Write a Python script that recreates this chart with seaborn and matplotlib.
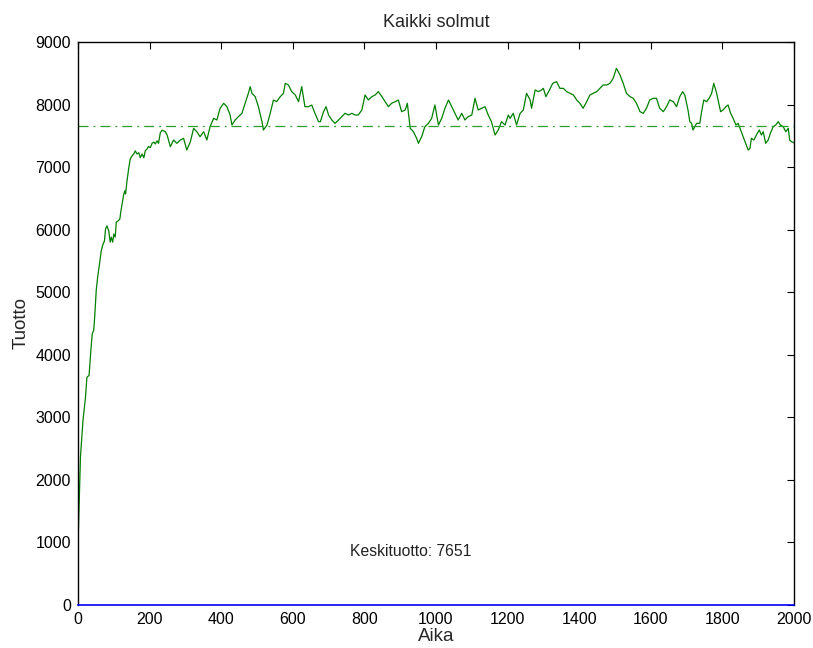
import matplotlib
matplotlib.use("Agg")
import matplotlib.pyplot as plt
import seaborn as sns
import pandas as pd

# Time steps and total yield of all nodes
aika = [
    0, 7, 11, 14, 21, 25, 31, 36, 40, 44, 47, 51, 55, 59, 62, 65, 69, 74, 77, 81,
    86, 90, 93, 97, 100, 104, 107, 112, 117, 120, 124, 128, 131, 133, 137, 142,
    146, 151, 156, 160, 165, 170, 174, 179, 184, 188, 193, 197, 202, 207, 212, 216,
    221, 225, 230, 235, 244, 249, 258, 267, 276, 286, 295, 304, 314, 323, 332, 341,
    351, 360, 369, 379, 388, 397, 407, 416, 425, 430, 439, 448, 458, 467, 476, 481,
    486, 495, 504, 514, 518, 528, 537, 546, 555, 565, 574, 579, 588, 597, 607, 616,
    625, 634, 644, 653, 662, 672,
    677, 686, 693, 700, 709, 718, 728, 737, 746, 756, 765, 774, 783, 793, 802, 811,
    821, 830, 839, 849, 858, 867, 876, 886, 895, 904, 914, 920, 928, 937, 946, 951,
    960, 969, 979, 988, 997, 1007, 1016, 1025, 1035, 1044, 1053, 1062, 1072, 1081,
    1090, 1100, 1109, 1118, 1128, 1137, 1146, 1155, 1165, 1174, 1183, 1193, 1202,
    1207, 1216, 1225, 1235, 1244, 1253, 1263, 1267, 1277, 1286, 1295, 1300, 1307,
    1317, 1326, 1337, 1346, 1356, 1365, 1374, 1384, 1393, 1402, 1411, 1421, 1430,
    1439, 1449, 1458, 1467, 1477, 1486, 1495, 1504, 1514, 1523, 1532, 1542, 1551,
    1560, 1570, 1579, 1588, 1597, 1607, 1616, 1625, 1635, 1644, 1653, 1663, 1672,
    1681, 1689, 1695, 1704, 1709, 1714, 1718, 1728,
    1737, 1742, 1748, 1756, 1763, 1770, 1776, 1784, 1788, 1795, 1802, 1810, 1816,
    1823, 1830, 1838, 1844, 1851, 1858, 1865, 1872, 1877, 1881, 1888, 1895, 1903,
    1909, 1914, 1921, 1928, 1934, 1942, 1949, 1956, 1962, 1970, 1977, 1984, 1988,
    1993, 2000,
]
tuotto = [
    950, 2370, 2690, 2950, 3320, 3640, 3670, 4070, 4340, 4390, 4630, 5030, 5240,
    5400, 5530, 5660, 5750, 5820, 6010, 6060, 5980, 5800, 5880, 5800, 5930, 5880,
    6120, 6140, 6170, 6300, 6440, 6570, 6620, 6570, 6780, 6990,
    7130, 7180, 7210, 7260, 7210, 7230, 7150, 7210, 7150, 7260, 7290, 7330, 7310,
    7380, 7400, 7370, 7420, 7380, 7550, 7590, 7566, 7513, 7326, 7433, 7380, 7433,
    7460, 7273, 7406, 7620, 7566, 7486, 7566, 7433, 7646, 7780, 7753, 7940, 8020,
    7966, 7833, 7673, 7753, 7806, 7860, 8020, 8180, 8286, 8180, 8126, 7966, 7726,
    7593, 7673, 7860, 8073, 8046, 8126, 8180, 8339, 8313, 8206, 8153, 8046, 8286,
    7966, 7966, 7993, 7860, 7726,
    7726, 7886, 7966, 7833, 7753, 7700, 7753, 7806, 7860, 7833, 7860, 7833, 7833,
    7913, 8153, 8073, 8126, 8153, 8206, 8126, 8046, 7966, 8020, 8046, 8073, 7886,
    7913, 8020, 7620, 7566, 7460, 7380, 7486, 7646, 7700, 7780, 7993, 7673, 7780,
    7940, 8073, 7966, 7860, 7753, 7860, 7753, 7806, 7833, 8100, 7913, 7940, 7966,
    7833, 7726, 7513, 7593, 7726, 7673, 7833,
    7780, 7860, 7673, 7860, 7913, 8180, 8073, 7940, 8233, 8206, 8233, 8259, 8126,
    8233, 8339, 8366, 8259, 8259, 8206, 8180, 8153, 8073, 8020, 7940, 8046, 8153,
    8180, 8206, 8259, 8313, 8313, 8339, 8419, 8579, 8472, 8339, 8180, 8126, 8100,
    8020, 7886, 7860, 7940, 8073, 8100, 8100, 7940, 7886, 7966, 8073, 8046, 7966,
    8126, 8206, 8153, 7913, 7726, 7700, 7593, 7700,
    7700, 7886, 8073, 8046, 8100, 8180, 8339, 8180, 8073, 7886, 7913, 7966, 7993,
    7860, 7780, 7673, 7700, 7593, 7486, 7380, 7273, 7300, 7460, 7433, 7513, 7593,
    7513, 7566, 7380, 7433, 7540, 7646, 7673, 7726, 7673, 7646, 7566, 7620, 7433,
    7406, 7390,
]
keskituotto = 7651

x_ticks = list(range(0, 2001, 200))
y_ticks = list(range(0, 9001, 1000))

sns.set_style("white")
plt.rcParams["font.family"] = ["Liberation Sans", "DejaVu Sans"]

df = pd.DataFrame({"Aika": aika, "Tuotto": tuotto})

fig, ax = plt.subplots(figsize=(8.13, 6.48), dpi=100)
fig.subplots_adjust(left=0.0959, right=0.9766, bottom=0.0664, top=0.9352)

sns.lineplot(data=df, x="Aika", y="Tuotto", ax=ax, color="#008000",
             linewidth=0.9, estimator=None)
ax.axhline(keskituotto, color="#2f9e2f", linewidth=0.9, linestyle=(0, (8, 4, 1.5, 4)))

ax.text(760, 860, f"Keskituotto: {keskituotto}", fontsize=11.3,
        ha="left", va="center", color="#222222")

ax.set_xlim(0, 2000)
ax.set_ylim(0, 9000)
ax.set_xticks(x_ticks)
ax.set_yticks(y_ticks)
ax.tick_params(direction="in", length=5, width=0.8, top=True, right=True,
               labelsize=11.5, pad=5, colors="black")
for s in ax.spines.values():
    s.set_color("black")
    s.set_linewidth(1.0)
# zero line along the bottom edge
ax.spines["bottom"].set_color("#0000ff")
ax.spines["bottom"].set_linewidth(1.2)
ax.spines["bottom"].set_zorder(5)

ax.set_title("Kaikki solmut", fontsize=13, pad=11)
ax.set_xlabel("Aika", fontsize=13.5, labelpad=1)
ax.set_ylabel("Tuotto", fontsize=13.5, labelpad=4)

fig.savefig("out.png", dpi=100, facecolor="white")
